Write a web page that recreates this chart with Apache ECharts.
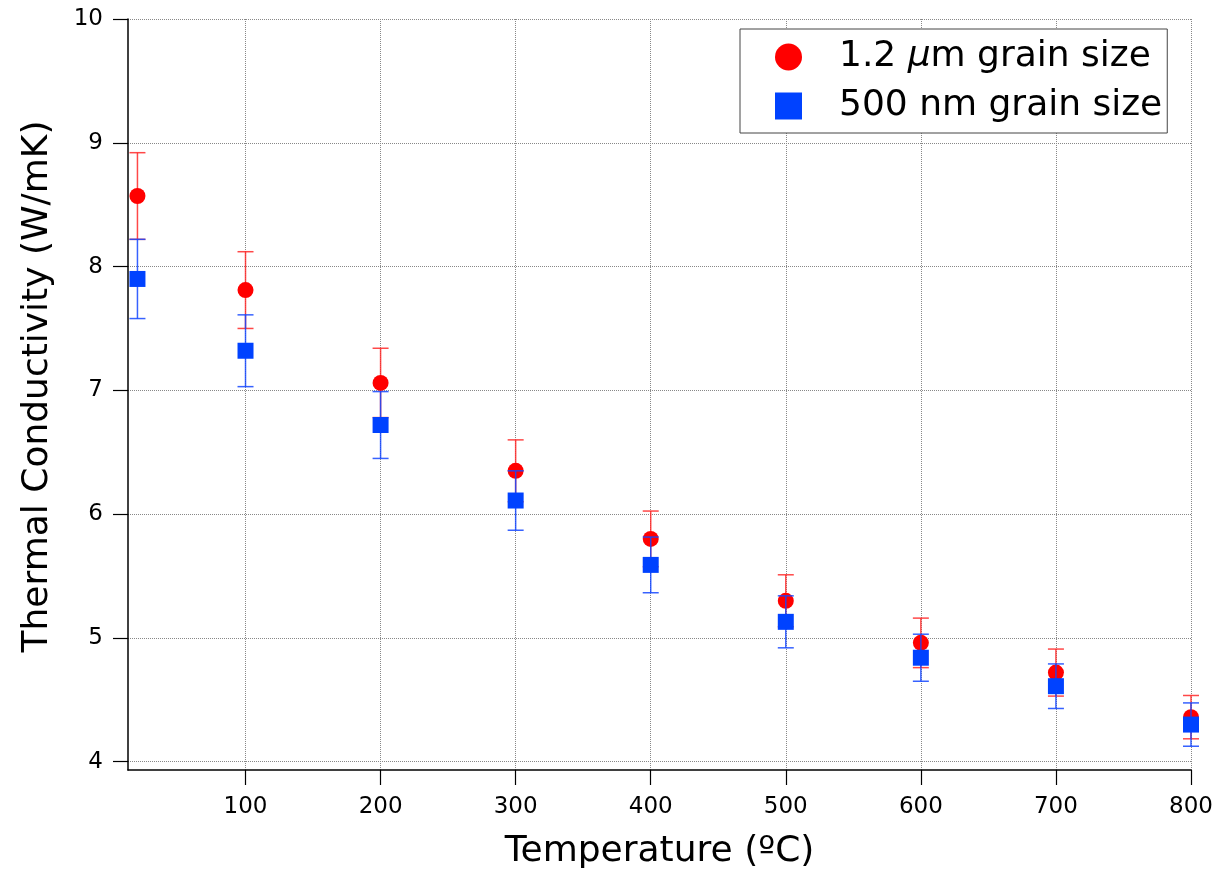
<!DOCTYPE html>
<html>
<head>
<meta charset="utf-8">
<script src="https://cdn.jsdelivr.net/npm/echarts@6/dist/echarts.min.js"></script>
<style>html,body{margin:0;padding:0;background:#fff;}#c{width:1222px;height:876px;}</style>
</head>
<body>
<div id="c"></div>
<script>
var temps = [20, 100, 200, 300, 400, 500, 600, 700, 800];
var k12 = [8.57, 7.81, 7.06, 6.35, 5.80, 5.30, 4.96, 4.72, 4.36];
var k12Err = [0.35, 0.31, 0.28, 0.25, 0.225, 0.21, 0.20, 0.19, 0.175];
var k500 = [7.90, 7.32, 6.72, 6.11, 5.59, 5.13, 4.84, 4.61, 4.30];
var k500Err = [0.32, 0.29, 0.27, 0.24, 0.225, 0.21, 0.19, 0.18, 0.175];
var xTicks = [100, 200, 300, 400, 500, 600, 700, 800];
var yTicks = [4, 5, 6, 7, 8, 9, 10];
var name12 = '1.2 μm grain size';
var name500 = '500 nm grain size';

var FONT = 'DejaVu Sans';

function pts(xs, ys) { return xs.map(function (x, i) { return [x, ys[i]]; }); }
function errs(xs, ys, es) { return xs.map(function (x, i) { return [x, ys[i] - es[i], ys[i] + es[i]]; }); }

function errRender(color) {
  return function (params, api) {
    var x = api.value(0), lo = api.value(1), hi = api.value(2);
    var pHi = api.coord([x, hi]), pLo = api.coord([x, lo]);
    var h = 8;
    var st = { stroke: color, lineWidth: 1.5 };
    return {
      type: 'group', children: [
        { type: 'line', shape: { x1: pHi[0], y1: pHi[1], x2: pLo[0], y2: pLo[1] }, style: st },
        { type: 'line', shape: { x1: pHi[0] - h, y1: pHi[1], x2: pHi[0] + h, y2: pHi[1] }, style: st },
        { type: 'line', shape: { x1: pLo[0] - h, y1: pLo[1], x2: pLo[0] + h, y2: pLo[1] }, style: st }
      ]
    };
  };
}

var chart = echarts.init(document.getElementById('c'), null, { renderer: 'canvas' });
chart.setOption({
  animation: false,
  backgroundColor: '#fff',
  grid: { left: 128, right: 31, top: 19, bottom: 106, containLabel: false, outerBoundsMode: 'none' },
  legend: {
    data: [name12, name500],
    orient: 'vertical',
    left: 740, top: 29,
    padding: [8, 5, 7, 35],
    itemGap: 9,
    itemWidth: 27, itemHeight: 27,
    borderColor: '#444', borderWidth: 1,
    backgroundColor: '#fff',
    formatter: function (n) {
      if (n.indexOf('μ') >= 0) {
        var parts = n.split('μ');
        return '{n|' + parts[0] + '}{i|μ}{m|' + parts[1] + '}';
      }
      return '{p|' + n + '}';
    },
    textStyle: {
      fontFamily: FONT, fontSize: 36, color: '#000', lineHeight: 40,
      rich: {
        p: { fontFamily: FONT, fontSize: 36, color: '#000', padding: [0, 0, 0, 32] },
        n: { fontFamily: FONT, fontSize: 36, color: '#000', padding: [0, 0, 0, 32] },
        i: { fontFamily: FONT, fontSize: 36, color: '#000', fontStyle: 'italic' },
        m: { fontFamily: FONT, fontSize: 36, color: '#000' }
      }
    }
  },
  xAxis: {
    type: 'value', min: 13, max: 800,
    name: 'Temperature (ºC)', nameLocation: 'middle', nameGap: 64,
    nameTextStyle: { fontFamily: FONT, fontSize: 36, color: '#000' },
    axisLine: { show: true, onZero: false, lineStyle: { color: '#000', width: 1.5 } },
    axisTick: { show: true, inside: false, length: 15, customValues: xTicks, lineStyle: { color: '#000', width: 1.2 } },
    axisLabel: { customValues: xTicks, margin: 26, fontFamily: FONT, fontSize: 23, color: '#000' },
    splitLine: { show: true, lineStyle: { color: '#888', width: 1, type: [1, 1] } }
  },
  yAxis: {
    type: 'value', min: 3.933, max: 10,
    name: 'Thermal Conductivity (W/mK)', nameLocation: 'middle', nameGap: 72,
    nameTextStyle: { fontFamily: FONT, fontSize: 36, color: '#000', padding: [0, 0, 0, 16] },
    axisLine: { show: true, onZero: false, lineStyle: { color: '#000', width: 1.5 } },
    axisTick: { show: true, inside: false, length: 15, customValues: yTicks, lineStyle: { color: '#000', width: 1.2 } },
    axisLabel: { customValues: yTicks, margin: 25, fontFamily: FONT, fontSize: 23, color: '#000' },
    splitLine: { show: true, lineStyle: { color: '#888', width: 1, type: [1, 1] } }
  },
  series: [
    {
      type: 'custom', name: 'err12', z: 1,
      renderItem: errRender('rgba(255,40,40,0.85)'),
      encode: { x: 0, y: [1, 2] },
      data: errs(temps, k12, k12Err)
    },
    {
      type: 'scatter', name: name12, z: 2,
      symbol: 'circle', symbolSize: 16,
      itemStyle: { color: '#ff0000', opacity: 1 },
      data: pts(temps, k12)
    },
    {
      type: 'custom', name: 'err500', z: 3,
      renderItem: errRender('rgba(20,70,255,0.85)'),
      encode: { x: 0, y: [1, 2] },
      data: errs(temps, k500, k500Err)
    },
    {
      type: 'scatter', name: name500, z: 4,
      symbol: 'rect', symbolSize: 16,
      itemStyle: { color: '#0042ff', opacity: 1 },
      data: pts(temps, k500)
    }
  ]
});
</script>
</body>
</html>
